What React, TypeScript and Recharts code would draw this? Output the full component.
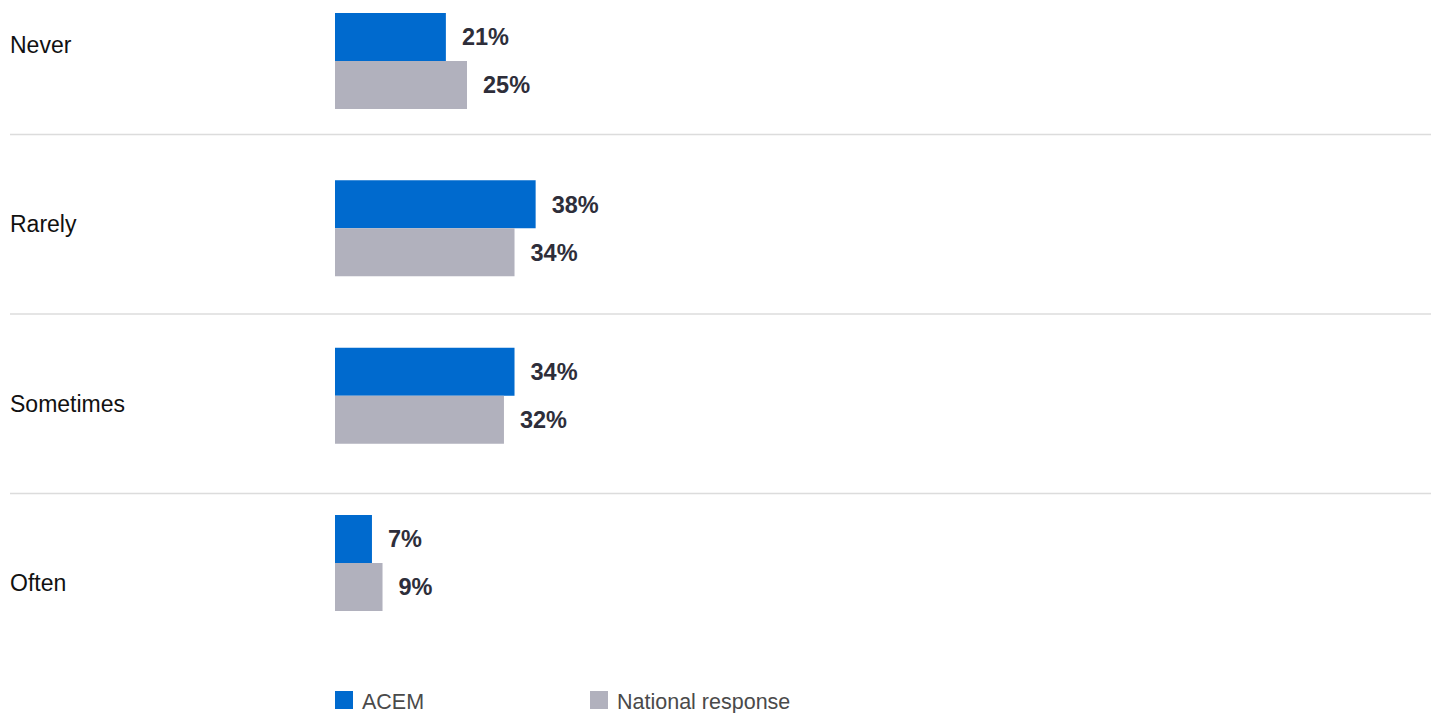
import React from 'react';
import { BarChart, Bar, XAxis, YAxis, CartesianGrid, Legend, LabelList } from 'recharts';

// answers and the two survey groups
const categories: string[] = ['Never', 'Rarely', 'Sometimes', 'Often'];
const acemValues: number[] = [21, 38, 34, 7];
const nationalValues: number[] = [25, 34, 32, 9];
const seriesNames: string[] = ['ACEM', 'National response'];

const ACEM_BLUE = '#006ACE';
const NATIONAL_GREY = '#B1B1BD';
const FONT = '"Liberation Sans", Arial, sans-serif';

const data = categories.map((label, i) => ({
    label: label,
    acem: acemValues[i],
    national: nationalValues[i],
}));

const CategoryTick = (props: any) => {
    const { y, payload } = props;
    return (
        <text x={10} y={y} dy="0.35em" textAnchor="start" fill="#111111" fontSize={23} fontFamily={FONT}>
            {payload.value}
        </text>
    );
};

const LegendContent = () => {
    const colors = [ACEM_BLUE, NATIONAL_GREY];
    const lefts = [335, 590];
    return (
        <div style={{ position: 'relative', height: 40, width: 1431, fontFamily: FONT }}>
            {seriesNames.map((name, i) => (
                <div
                    key={name}
                    style={{ position: 'absolute', left: lefts[i], top: 18, height: 18, display: 'flex', alignItems: 'center' }}
                >
                    <span style={{ display: 'inline-block', width: 18, height: 18, background: colors[i] }} />
                    <span style={{ marginLeft: 9, fontSize: 21.5, color: '#4a4a4a', lineHeight: '18px', position: 'relative', top: 2 }}>{name}</span>
                </div>
            ))}
        </div>
    );
};

const pct = (v: any) => `${v}%`;

export default function App() {
    return (
        <div style={{ position: 'absolute', left: 0, top: -45, width: 1431, height: 758, fontFamily: FONT }}>
            <BarChart
                width={1431}
                height={758}
                data={data}
                layout="vertical"
                barSize={48}
                barGap={0}
                margin={{ top: 0, right: 568, left: 10, bottom: 0 }}
            >
                <CartesianGrid
                    vertical={false}
                    yAxisId="labels"
                    x={10}
                    width={1421}
                    stroke="#dcdcdc"
                    strokeWidth={1.5}
                    horizontalCoordinatesGenerator={({ offset }: any) =>
                        [1, 2, 3].map((i) => offset.top + (i * offset.height) / categories.length)
                    }
                />
                <XAxis type="number" domain={[0, 100]} hide />
                <YAxis
                    yAxisId="labels"
                    type="category"
                    dataKey="label"
                    width={325}
                    axisLine={false}
                    tickLine={false}
                    tick={<CategoryTick />}
                />
                <YAxis yAxisId="bars" type="category" dataKey="label" hide padding={{ top: 22, bottom: 26.7 }} />
                <Legend verticalAlign="bottom" wrapperStyle={{ left: 0, bottom: 0, width: 1431 }} content={<LegendContent />} />
                <Bar yAxisId="bars" dataKey="acem" name="ACEM" fill={ACEM_BLUE} isAnimationActive={false}>
                    <LabelList dataKey="acem" position="right" offset={16} formatter={pct}
                        fill="#2e2e3a" fontSize={23.5} fontWeight="bold" fontFamily={FONT} />
                </Bar>
                <Bar yAxisId="bars" dataKey="national" name="National response" fill={NATIONAL_GREY} isAnimationActive={false}>
                    <LabelList dataKey="national" position="right" offset={16} formatter={pct}
                        fill="#2e2e3a" fontSize={23.5} fontWeight="bold" fontFamily={FONT} />
                </Bar>
            </BarChart>
        </div>
    );
}
